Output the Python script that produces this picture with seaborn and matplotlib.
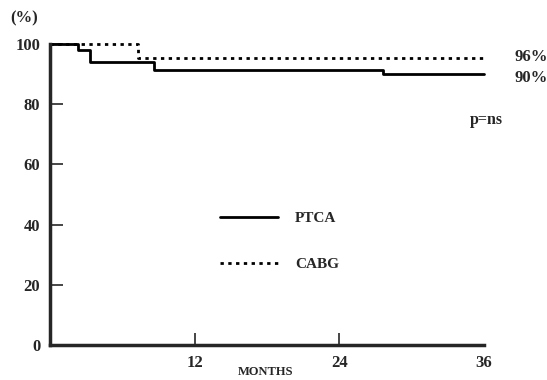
import seaborn as sns
import matplotlib.pyplot as plt
import pandas as pd

# Kaplan-Meier style step curves
ptca_months = [0, 2.3, 3.3, 8.6, 27.6, 36]
ptca_surv = [100, 98, 94, 91.5, 90, 90]
cabg_months = [0, 7.3, 36]
cabg_surv = [100, 95.5, 95.5]

end_labels = ["96%", "90%"]
end_label_y = [95.7, 88.7]

df = pd.concat([
    pd.DataFrame({"months": ptca_months, "surv": ptca_surv, "group": "PTCA"}),
    pd.DataFrame({"months": cabg_months, "surv": cabg_surv, "group": "CABG"}),
])

sns.set_style("ticks")
plt.rcParams["font.family"] = ["Liberation Serif", "DejaVu Serif"]
plt.rcParams["font.weight"] = "bold"

fig = plt.figure(figsize=(5.47, 3.8), dpi=100)
ax = fig.add_axes([50 / 547, 1 - 345 / 380, 434 / 547, 301 / 380])

sns.lineplot(data=df, x="months", y="surv", hue="group", style="group",
             palette={"PTCA": "black", "CABG": "black"},
             dashes={"PTCA": "", "CABG": (1.2, 1.6)},
             drawstyle="steps-post", estimator=None, linewidth=2.0,
             ax=ax, legend=True)
for line in ax.lines:
    line.set_clip_on(False)

ax.set_xlim(0, 36)
ax.set_ylim(0, 100)
ax.set_xticks([12, 24, 36])
ax.set_xticklabels(["12", "24", "36"])
ax.set_yticks([0, 20, 40, 60, 80, 100])
ax.tick_params(direction="in", length=9, width=1.2, labelsize=12, pad=7)
ax.xaxis.get_major_ticks()[-1].tick1line.set_visible(False)
for lab in ax.get_xticklabels() + ax.get_yticklabels():
    lab.set_fontweight("bold")
for s in ["top", "right"]:
    ax.spines[s].set_visible(False)
for s in ["left", "bottom"]:
    ax.spines[s].set_linewidth(2.5)

ax.set_xlabel("")
ax.set_ylabel("")
fig.text(266 / 547, 1 - 372 / 380, "MONTHS", fontsize=9, fontweight="bold",
         ha="center", va="center")
fig.text(10 / 547, 1 - 18 / 380, "(%)", fontsize=12, fontweight="bold", va="center")

for lab, v in zip(end_labels, end_label_y):
    ax.text(38.5, v, lab, fontsize=12, fontweight="bold", va="center", clip_on=False)
ax.text(37.6, 74.7, "p=ns", fontsize=11.5, fontweight="bold", ha="right", va="center",
        clip_on=False)

leg = ax.legend(loc="center left", bbox_to_anchor=(0.392, 0.344), frameon=False,
                borderpad=0, borderaxespad=0,
                handlelength=3.8, handletextpad=1.1, labelspacing=2.1,
                prop={"size": 11, "weight": "bold"})

fig.savefig("out.png", dpi=100)
